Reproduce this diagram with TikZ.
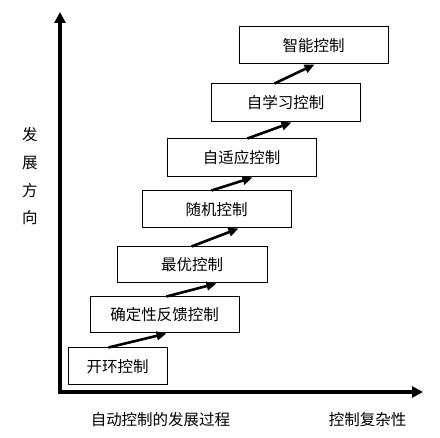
\documentclass[tikz,border=0pt]{standalone}
\usepackage{fontspec}
\newfontfamily\cjk{Noto Sans CJK SC}
\usetikzlibrary{arrows.meta}
\begin{document}
\begin{tikzpicture}[x=1pt,y=-1pt,
  font=\cjk\fontsize{15.5}{18}\selectfont,
  stage/.style={draw=black,line width=1pt,rectangle,inner sep=0pt,fill=white},
  axisline/.style={line width=4pt,-{Triangle[length=11pt,width=11pt]}},
  steparrow/.style={line width=2.6pt,-{Triangle[length=10pt,width=8.5pt]}},
  lbl/.style={inner sep=0pt}]
\useasboundingbox (0,0) rectangle (440,438);
\fill[white] (0,0) rectangle (440,438);
% axes
\coordinate (O) at (60,392);
\coordinate (Ytop) at (60,12);
\coordinate (Xend) at (423,392);
\coordinate (Ostart) at (58,392);
\draw[axisline] ([yshift=-2pt]O) -- (Ytop);
\draw[axisline] (Ostart) -- (Xend);
% boxes
\node[stage,minimum width=99pt,minimum height=37pt] (b1) at (117.5,366.5) {开环控制};
\node[stage,minimum width=149pt,minimum height=36pt] (b2) at (164.5,315) {确定性反馈控制};
\node[stage,minimum width=150pt,minimum height=36pt] (b3) at (192,265) {最优控制};
\node[stage,minimum width=149pt,minimum height=37pt] (b4) at (216.5,209.5) {随机控制};
\node[stage,minimum width=149pt,minimum height=38pt] (b5) at (241.5,158) {自适应控制};
\node[stage,minimum width=149pt,minimum height=38pt] (b6) at (285.5,103) {自学习控制};
\node[stage,minimum width=149pt,minimum height=37pt] (b7) at (313.5,45.5) {智能控制};
% arrows
\draw[steparrow] ([xshift=41pt]b1.north west) -- ([xshift=77pt]b2.south west);
\draw[steparrow] ([xshift=77pt]b2.north west) -- ([xshift=100pt]b3.south west);
\draw[steparrow] ([xshift=75pt]b3.north west) -- ([xshift=97pt]b4.south west);
\draw[steparrow] ([xshift=70pt]b4.north west) -- ([xshift=86pt]b5.south west);
\draw[steparrow] ([xshift=81pt]b5.north west) -- ([xshift=81pt]b6.south west);
\draw[steparrow] ([xshift=64pt]b6.north west) -- ([xshift=76pt]b7.south west);
% labels
\node[lbl] (v1) at (30,135) {发};
\node[lbl] (v2) at (30,163) {展};
\node[lbl] (v3) at (30,190.5) {方};
\node[lbl] (v4) at (30,218) {向};
\node[lbl] (xl) at (160.5,420) {自动控制的发展过程};
\node[lbl] (xr) at (367.5,420) {控制复杂性};
\end{tikzpicture}
\end{document}
